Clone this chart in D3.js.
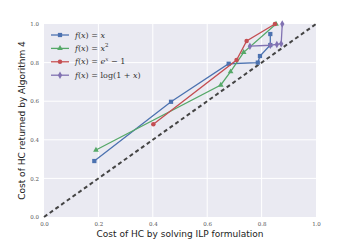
<!DOCTYPE html>
<html>
<head>
<meta charset="utf-8">
<script src="https://cdn.jsdelivr.net/npm/d3@7"></script>
<style>
  body { margin: 0; background: #fff; }
  .tick text { font-family: "DejaVu Serif", serif; font-size: 5.5px; fill: #555; }
  .lbl { font-family: "DejaVu Sans", sans-serif; font-size: 9px; fill: #222; }
  .leg { font-family: "DejaVu Serif", serif; font-size: 8px; fill: #333; }
</style>
</head>
<body>
<div id="chart"></div>
<script>
// values
var ticks = [0.0, 0.2, 0.4, 0.6, 0.8, 1.0];

var linX = [0.185, 0.467, 0.679, 0.786, 0.794, 0.832, 0.832],
    linY = [0.29, 0.597, 0.794, 0.80, 0.834, 0.891, 0.948];
var sqX = [0.191, 0.65, 0.686, 0.734, 0.853],
    sqY = [0.347, 0.684, 0.753, 0.853, 1.0];
var expX = [0.402, 0.708, 0.745, 0.849],
    expY = [0.48, 0.813, 0.912, 1.0];
var logX = [0.757, 0.832, 0.856, 0.872, 0.876],
    logY = [0.885, 0.89, 0.894, 0.898, 1.0];

// legend labels as [text, italic] pieces
var labels = [
  [["f", 1], ["(", 0], ["x", 1], [") = ", 0], ["x", 1]],
  [["f", 1], ["(", 0], ["x", 1], [") = ", 0], ["x", 1], ["2", 2]],
  [["f", 1], ["(", 0], ["x", 1], [") = ", 0], ["e", 1], ["x", 3], [" − 1", 0]],
  [["f", 1], ["(", 0], ["x", 1], [") = log(1 + ", 0], ["x", 1], [")", 0]]
];
var colors = ["#4C72B0", "#55A868", "#C44E52", "#8172B2"];
var symbols = [d3.symbolSquare, d3.symbolTriangle, d3.symbolCircle, d3.symbolDiamond];
var sizes = [18, 14, 16, 16];

var series = [[linX, linY], [sqX, sqY], [expX, expY], [logX, logY]].map(function(s, i) {
  return { pts: s[0].map(function(x, j) { return [x, s[1][j]]; }), color: colors[i], sym: symbols[i], size: sizes[i] };
});

var margin = {top: 24, right: 36, bottom: 25, left: 44},
    width = 352 - margin.left - margin.right,
    height = 242 - margin.top - margin.bottom;

var svg = d3.select("#chart").append("svg")
    .attr("width", 352).attr("height", 242);
var g = svg.append("g")
    .attr("transform", "translate(" + margin.left + "," + margin.top + ")");

var x = d3.scaleLinear().domain([0, 1]).range([0, width]);
var y = d3.scaleLinear().domain([0, 1]).range([height, 0]);

g.append("rect").attr("width", width).attr("height", height).attr("fill", "#EAEAF2");

// grid
g.append("g").selectAll("line").data(ticks.slice(1, 5)).enter().append("line")
  .attr("x1", function(d) { return x(d); }).attr("x2", function(d) { return x(d); })
  .attr("y1", 0).attr("y2", height).attr("stroke", "#fff").attr("stroke-width", 1);
g.append("g").selectAll("line").data(ticks.slice(1, 5)).enter().append("line")
  .attr("y1", function(d) { return y(d); }).attr("y2", function(d) { return y(d); })
  .attr("x1", 0).attr("x2", width).attr("stroke", "#fff").attr("stroke-width", 1);

var fmt = d3.format(".1f");
g.append("g")
  .attr("transform", "translate(0," + height + ")")
  .call(d3.axisBottom(x).tickValues(ticks).tickFormat(fmt).tickSize(0).tickPadding(5))
  .call(function(a) { a.select(".domain").remove(); });
g.append("g")
  .call(d3.axisLeft(y).tickValues(ticks).tickFormat(fmt).tickSize(0).tickPadding(5))
  .call(function(a) { a.select(".domain").remove(); });

// y = x reference
g.append("line")
  .attr("x1", x(0)).attr("y1", y(0)).attr("x2", x(1)).attr("y2", y(1))
  .attr("stroke", "#444").attr("stroke-width", 2).attr("stroke-dasharray", "4,3");

var line = d3.line()
  .x(function(d) { return x(d[0]); })
  .y(function(d) { return y(d[1]); });

series.forEach(function(s) {
  g.append("path").datum(s.pts)
    .attr("d", line).attr("fill", "none")
    .attr("stroke", s.color).attr("stroke-width", 1.3);
  g.append("g").selectAll("path").data(s.pts).enter().append("path")
    .attr("transform", function(d) { return "translate(" + x(d[0]) + "," + y(d[1]) + ")"; })
    .attr("d", d3.symbol().type(s.sym).size(s.size))
    .attr("fill", s.color);
});

// legend
var leg = g.append("g").attr("transform", "translate(7,11)");
series.forEach(function(s, i) {
  var row = leg.append("g").attr("transform", "translate(0," + (i * 13.4) + ")");
  row.append("line").attr("x1", 0).attr("x2", 18).attr("stroke", s.color).attr("stroke-width", 1.3);
  row.append("path").attr("transform", "translate(9,0)")
    .attr("d", d3.symbol().type(s.sym).size(s.size)).attr("fill", s.color);
  var t = row.append("text").attr("class", "leg").attr("x", 24).attr("dy", "0.32em")
    .style("white-space", "pre");
  labels[i].forEach(function(p) {
    var sp = t.append("tspan").text(p[0]);
    if (p[1] === 1 || p[1] === 3) sp.style("font-style", "italic");
    if (p[1] >= 2) sp.style("font-size", "5.5px").attr("dy", "-3.5");
    else if (p[1] === 0 && i === 2 && p[0] === " − 1") sp.attr("dy", "3.5");
  });
  if (i === 1) { /* nothing after superscript */ }
});

// axis titles
svg.append("text").attr("class", "lbl")
  .attr("x", margin.left + width / 2).attr("y", 237)
  .attr("text-anchor", "middle")
  .text("Cost of HC by solving ILP formulation");
svg.append("text").attr("class", "lbl")
  .attr("transform", "translate(25," + (margin.top + height / 2) + ") rotate(-90)")
  .attr("text-anchor", "middle")
  .text("Cost of HC returned by Algorithm 4");
</script>
</body>
</html>
